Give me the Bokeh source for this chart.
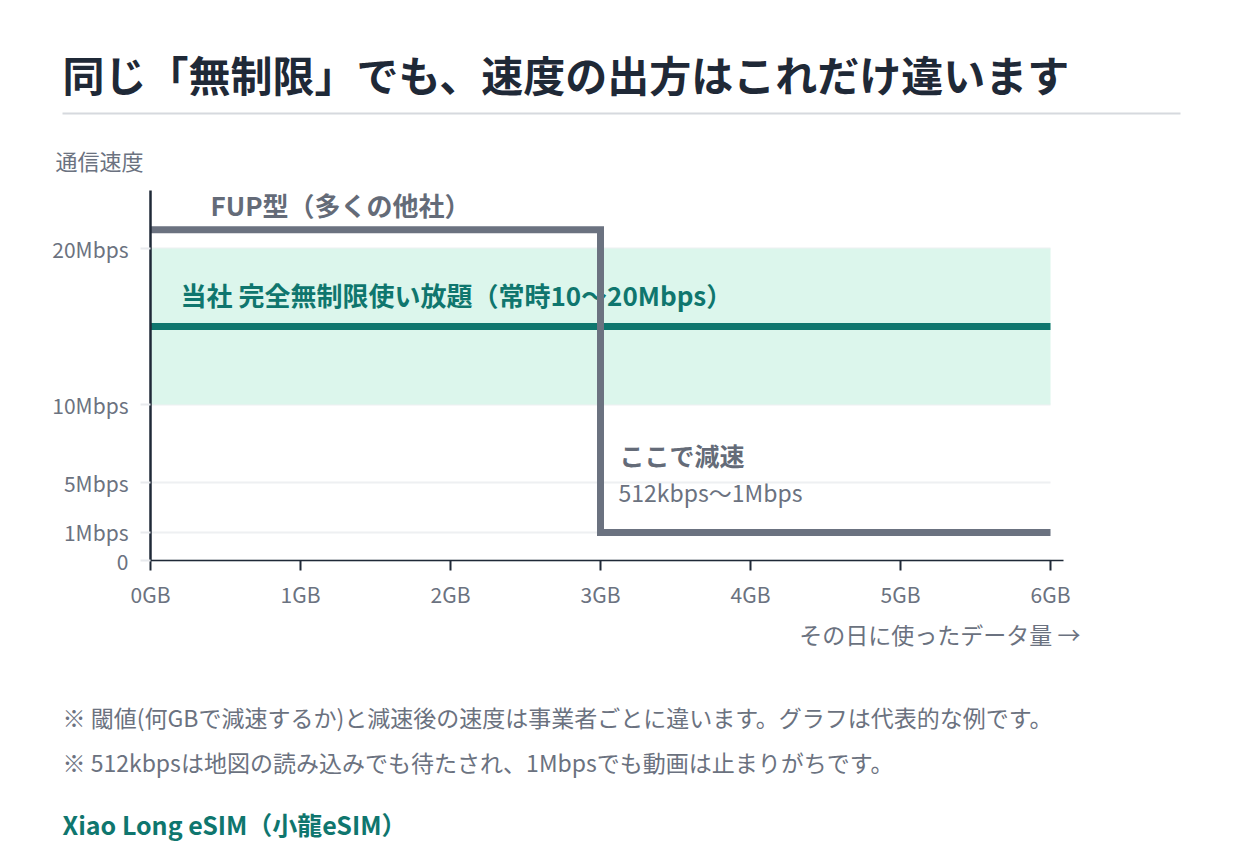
from bokeh.plotting import figure
from bokeh.models import Label, BoxAnnotation, FixedTicker, Range1d, LinearAxis
from bokeh.core.properties import value
from bokeh.embed import file_html
from bokeh.resources import INLINE
import numpy as np

FONT = "Noto Sans CJK JP"

# ---- data ----
data_gb = [0, 1, 2, 3, 4, 5, 6]
x_tick_labels = ["0GB", "1GB", "2GB", "3GB", "4GB", "5GB", "6GB"]
y_tick_speeds = [0, 1, 5, 10, 20]
y_tick_labels = ["0", "1Mbps", "5Mbps", "10Mbps", "20Mbps"]

fup_gb = [0, 3, 3, 6]
fup_mbps = [21.2, 21.2, 1, 1]

ours_gb = [0, 6]
ours_mbps = [15, 15]
ours_band_low = 10
ours_band_high = 20

# display scale for speed (expanded at the low end)
SPEED_KNOTS = [0, 1, 5, 10, 20, 40]
DISPLAY_KNOTS = [0, 1.8, 5, 10, 20, 40]


def disp(v):
    return [float(a) for a in np.interp(np.atleast_1d(v), SPEED_KNOTS, DISPLAY_KNOTS)]


GREY = "#6b7280"
DARK = "#1f2937"
GREEN = "#0f766e"

W, H = 1224, 844
X0, Y0 = 150, 560          # pixel position of the origin
PX_GB, PX_UNIT = 150, 15.6  # pixels per GB / per display unit
X_END = 913 / PX_GB
Y_END = 370 / PX_UNIT

p = figure(width=W, height=H, output_backend="svg", toolbar_location=None,
           x_axis_location=None, y_axis_location=None,
           min_border=0, min_border_left=0, min_border_right=0, min_border_top=0, min_border_bottom=0,
           x_range=Range1d(-X0 / PX_GB, (W - X0) / PX_GB),
           y_range=Range1d(-(H - Y0) / PX_UNIT, Y0 / PX_UNIT))
p.outline_line_color = None
p.background_fill_color = "white"
p.border_fill_color = "white"
p.xgrid.visible = False
p.ygrid.visible = False

# axes
xaxis = LinearAxis(fixed_location=0, bounds=(0, X_END), ticker=FixedTicker(ticks=data_gb))
xaxis.major_label_overrides = {g: l for g, l in zip(data_gb, x_tick_labels)}
xaxis.axis_line_color = DARK
xaxis.axis_line_width = 1.5
xaxis.major_tick_line_color = DARK
xaxis.major_tick_line_width = 2
xaxis.major_tick_out = 10
xaxis.major_tick_in = 0
xaxis.minor_tick_line_color = None
xaxis.major_label_text_font = FONT
xaxis.major_label_text_font_size = "21px"
xaxis.major_label_text_color = GREY
xaxis.major_label_standoff = 8
p.add_layout(xaxis, "below")

ytick_pos = disp(y_tick_speeds)
yaxis = LinearAxis(fixed_location=0, bounds=(0, Y_END), ticker=FixedTicker(ticks=ytick_pos))
yaxis.major_label_overrides = {t: l for t, l in zip(ytick_pos, y_tick_labels)}
yaxis.axis_line_color = DARK
yaxis.axis_line_width = 2.5
yaxis.major_tick_line_color = "#e8eaed"
yaxis.major_tick_line_width = 2
yaxis.major_tick_out = 10
yaxis.major_tick_in = 0
yaxis.minor_tick_line_color = None
yaxis.major_label_text_font = FONT
yaxis.major_label_text_font_size = "21px"
yaxis.major_label_text_color = GREY
yaxis.major_label_standoff = 12
p.add_layout(yaxis, "left")

# horizontal grid lines inside the plot area
p.segment(x0=[0] * len(ytick_pos), x1=[6] * len(ytick_pos), y0=ytick_pos, y1=ytick_pos,
          line_color="#eef0f2", line_width=2)

# band of our plan
p.quad(left=[ours_gb[0]], right=[ours_gb[-1]], bottom=disp(ours_band_low), top=disp(ours_band_high),
       fill_color="#dcf6ec", line_color=None)
p.line(ours_gb, disp(ours_mbps), line_color=GREEN, line_width=7)

# green label drawn under the FUP line
p.text(x=[(180 - X0) / PX_GB], y=[(Y0 - 294) / PX_UNIT], text=["当社 完全無制限使い放題（常時10〜20Mbps）"],
       text_font=value(FONT), text_font_style="bold", text_font_size="26px",
       text_color=GREEN, text_baseline="middle", text_align="left")

p.line(fup_gb, disp(fup_mbps), line_color=GREY, line_width=7, line_join="miter")


def lab(text, px, py, size, color, bold=False, align="left"):
    p.add_layout(Label(x=px, y=H - py, x_units="screen", y_units="screen", text=text,
                       text_font=FONT, text_font_size=f"{size}px", text_color=color,
                       text_font_style="bold" if bold else "normal",
                       text_baseline="middle", text_align=align))


lab("同じ「無制限」でも、速度の出方はこれだけ違います", 62, 73, 42, DARK, bold=True)
lab("通信速度", 55, 159, 22, GREY)
lab("FUP型（多くの他社）", 210, 204, 26, "#646b78", bold=True)
lab("ここで減速", 619, 454, 25, "#646b78", bold=True)
lab("512kbps〜1Mbps", 618, 491, 23, GREY)
lab("その日に使ったデータ量 →", 1080, 633, 23, GREY, align="right")
lab("※ 閾値(何GBで減速するか)と減速後の速度は事業者ごとに違います。グラフは代表的な例です。", 62, 716, 23, GREY)
lab("※ 512kbpsは地図の読み込みでも待たされ、1Mbpsでも動画は止まりがちです。", 62, 761, 23, GREY)
lab("Xiao Long eSIM（小龍eSIM）", 62, 823, 25, GREEN, bold=True)

p.add_layout(BoxAnnotation(left=62, right=1180, bottom=H - 114, top=H - 112,
                           left_units="screen", right_units="screen", top_units="screen",
                           bottom_units="screen", fill_color="#d6d9de", fill_alpha=1, line_color=None))

open("out.html", "w").write(file_html(p, INLINE))
